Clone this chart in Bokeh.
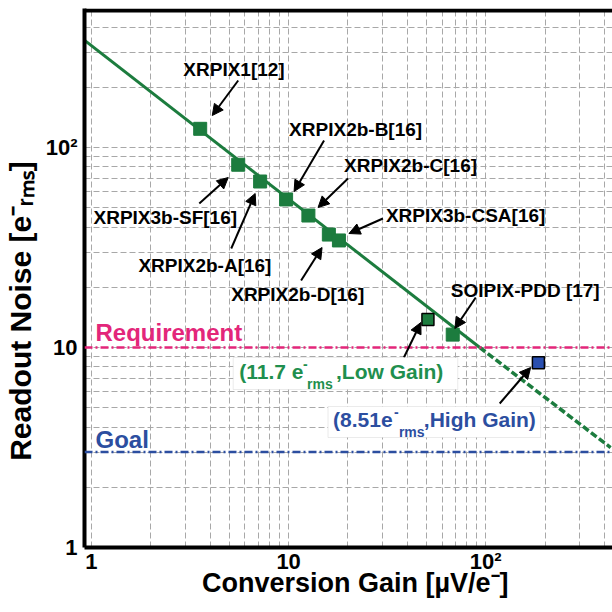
import math
from bokeh.plotting import figure
from bokeh.models import (Label, Arrow, NormalHead, Span, BoxAnnotation,
                          FixedTicker, CustomJSTickFormatter)
from bokeh.embed import file_html
from bokeh.resources import INLINE

# ---------------- data ----------------
devices = ["XRPIX1[12]", "XRPIX3b-SF[16]", "XRPIX2b-A[16]", "XRPIX2b-B[16]",
           "XRPIX2b-C[16]", "XRPIX2b-D[16]", "XRPIX3b-CSA[16]", "SOIPIX-PDD [17]"]
gain = [3.56, 5.55, 7.17, 9.71, 12.6, 16.0, 18.0, 68.0]
noise = [124.0, 82.0, 67.6, 55.0, 45.7, 36.7, 34.3, 11.6]

this_work_gain = [50.9, 185.0]
this_work_noise = [13.8, 8.4]

fit_solid_gain = [0.92, 93.3]
fit_solid_noise = [344.0, 10.0]
fit_dash_gain = [93.3, 430.0]
fit_dash_noise = [10.0, 3.16]

requirement = 10.0
goal = 3.0

x_ticks = [1, 10, 100]
x_tick_labels = ["1", "10", "10\u00b2"]
y_ticks = [1, 10, 100]
y_tick_labels = ["1", "10", "10\u00b2"]

# leading / trailing wide spaces only shift the centred titles
x_title = "\u2002Conversion Gain [\u00b5V/e\u207b]"
y_title = "Readout Noise [e\u207b\u1d63\u2098\u209b]\u2003\u2003\u2009"

# ---------------- styles ----------------
FONT = "Liberation Sans"
GREEN = "#1c7c3e"
GREEN_TXT = "#1f8f4e"
PINK = "#e3267a"
BLUE = "#2c4ea0"
GRID = "#a8a8a8"

# frame geometry (canvas pixels)
W, H = 612, 612
FL, FR, FT, FB = 83, 612, 8, 547
X0, XDEC = 90.0, 197.5    # canvas x of gain=1, pixels per decade
Y0, YDEC = 547.0, 200.0   # canvas y of noise=1, pixels per decade


def X(px):
    return 10 ** ((px - X0) / XDEC)


def Y(py):
    return 10 ** ((Y0 - py) / YDEC)


p = figure(width=W, height=H, x_axis_type="log", y_axis_type="log",
           x_range=(X(FL), X(FR)), y_range=(Y(FB), Y(FT)),
           output_backend="svg", toolbar_location=None,
           min_border_left=FL, min_border_right=W - FR,
           min_border_top=FT, min_border_bottom=H - FB)
p.outline_line_color = None
p.background_fill_color = "white"

minor = [m * 10 ** e for e in range(0, 3) for m in range(2, 10)]
xt = FixedTicker(ticks=x_ticks, minor_ticks=minor)
yt = FixedTicker(ticks=y_ticks, minor_ticks=minor)
p.xaxis.ticker = xt
p.yaxis.ticker = yt
p.xgrid.ticker = xt
p.ygrid.ticker = yt

fmt_code = """
for (let i = 0; i < vals.length; i++) {
  if (Math.abs(tick - vals[i]) < 1e-6 * vals[i]) return labs[i];
}
return '';
"""
p.xaxis.formatter = CustomJSTickFormatter(args=dict(vals=x_ticks, labs=x_tick_labels), code=fmt_code)
p.yaxis.formatter = CustomJSTickFormatter(args=dict(vals=y_ticks, labs=y_tick_labels), code=fmt_code)

for ax in (p.xaxis, p.yaxis):
    ax.axis_line_width = 4
    ax.axis_line_color = "black"
    ax.major_tick_line_color = None
    ax.minor_tick_line_color = None
    ax.major_label_text_font = FONT
    ax.major_label_text_font_style = "bold"
    ax.major_label_text_font_size = "22px"
    ax.major_label_text_color = "black"
    ax.axis_label_text_font = FONT
    ax.axis_label_text_font_style = "bold"
    ax.axis_label_text_color = "black"
p.xaxis.major_label_standoff = -5
p.yaxis.major_label_standoff = 1
p.xaxis.axis_label = x_title
p.yaxis.axis_label = y_title
p.xaxis.axis_label_text_font_size = "27px"
p.yaxis.axis_label_text_font_size = "30px"
p.xaxis.axis_label_standoff = -9
p.yaxis.axis_label_standoff = 6

for g in (p.xgrid, p.ygrid):
    g.grid_line_color = GRID
    g.grid_line_dash = "6 3"
    g.grid_line_width = 1
    g.minor_grid_line_color = GRID
    g.minor_grid_line_dash = "6 3"
    g.minor_grid_line_width = 1

# top border: a thick horizontal span just inside the top of the frame
p.hspan(y=[Y(FT + 2)], line_color="black", line_width=4)

# requirement / goal
p.add_layout(Span(location=requirement, dimension="width", line_color=PINK,
                  line_width=2.5, line_dash="8 3 2 3"))
p.add_layout(Span(location=goal, dimension="width", line_color=BLUE,
                  line_width=2.5, line_dash="8 3 2 3"))

# fit line
p.line(fit_solid_gain, fit_solid_noise, line_color=GREEN, line_width=3)
p.line(fit_dash_gain, fit_dash_noise, line_color=GREEN, line_width=3.5, line_dash="7 3")

# previous devices
p.scatter(gain, noise, marker="square", size=13, fill_color=GREEN, line_color=GREEN)
# this work
p.scatter(this_work_gain[:1], this_work_noise[:1], marker="square", size=12,
          fill_color=GREEN, line_color="black", line_width=1.5)
p.scatter(this_work_gain[1:], this_work_noise[1:], marker="square", size=12,
          fill_color="#2a4fb0", line_color="black", line_width=1.5)

# ---------------- annotations (canvas pixel positions) ----------------
dev_label_pos = [(182, 68.5), (92, 217), (137, 264.5), (288, 128.5),
                 (343, 165), (230, 293.5), (385, 215), (450, 289.5)]
dev_arrows = [((237, 80), (211, 115)), ((198, 203), (227, 177)),
              ((230, 248), (254, 193)), ((323, 140), (293, 191)),
              ((347, 178), (317, 207)), ((300, 280), (321, 247)),
              ((382, 218), (348, 233)), ((475, 297), (454, 328))]
work_arrows = [((403, 357), (420, 322)), ((499, 403), (530, 367))]


def lab(text, px, py, size, color="black", align="left", angle=0.0):
    p.add_layout(Label(x=X(px), y=Y(py), text=text, text_font=FONT,
                       text_font_style="bold", text_font_size=size,
                       text_color=color, text_align=align,
                       text_baseline="middle", angle=angle))


def arrow(t, h):
    p.add_layout(Arrow(x_start=X(t[0]), y_start=Y(t[1]), x_end=X(h[0]), y_end=Y(h[1]),
                       line_color="black", line_width=2,
                       end=NormalHead(size=11, fill_color="black", line_color="black")))


for name, (px, py) in zip(devices, dev_label_pos):
    lab(name, px, py, "19px")
for t, h in dev_arrows + work_arrows:
    arrow(t, h)

lab("Requirement", 94, 332, "24px", PINK)
lab("Goal", 94, 439, "24px", BLUE)

# boxes for this-work values
p.add_layout(BoxAnnotation(left=X(232), right=X(457), top=Y(357), bottom=Y(389),
                           fill_color="white", fill_alpha=1.0,
                           line_color="#bdbdbd", line_width=1))
p.add_layout(BoxAnnotation(left=X(327), right=X(540), top=Y(406), bottom=Y(437),
                           fill_color="white", fill_alpha=1.0,
                           line_color="#bdbdbd", line_width=1))

lab("(11.7 e", 238, 371, "21px", GREEN_TXT)
lab("-", 302, 363, "14px", GREEN_TXT)
lab("rms", 306, 383, "14px", GREEN_TXT)
lab(",Low Gain)", 335, 371, "21px", GREEN_TXT)

lab("(8.51e", 332, 419, "21px", BLUE)
lab("-", 393, 411, "14px", BLUE)
lab("rms", 398, 431, "14px", BLUE)
lab(",High Gain)", 423, 419, "21px", BLUE)

open("out.html", "w").write(file_html(p, INLINE))
